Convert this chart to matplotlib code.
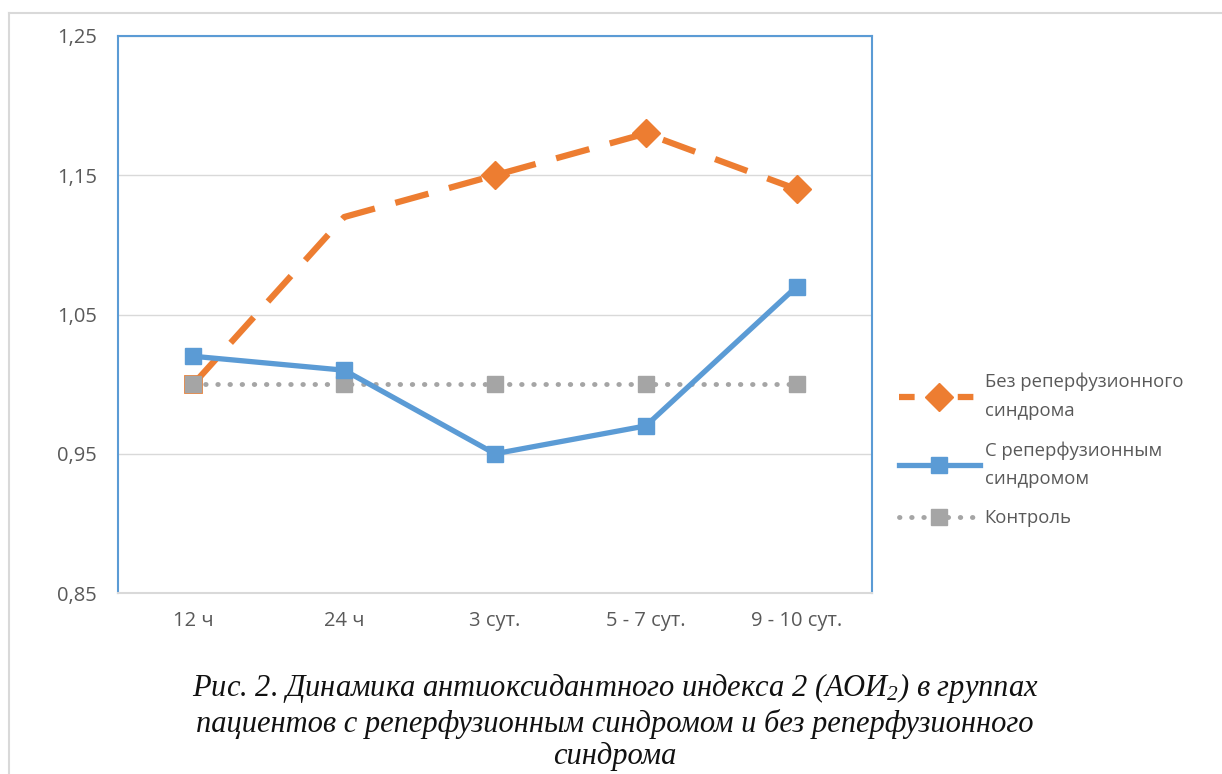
import matplotlib
matplotlib.use("Agg")
from matplotlib import pyplot as plt
from matplotlib.lines import Line2D

categories = ["12 ч", "24 ч", "3 сут.", "5 - 7 сут.", "9 - 10 сут."]
bez_reperf = [1.00, 1.12, 1.15, 1.18, 1.14]
s_reperf = [1.02, 1.01, 0.95, 0.97, 1.07]
kontrol = [1.00, 1.00, 1.00, 1.00, 1.00]
yticks = [0.85, 0.95, 1.05, 1.15, 1.25]
ytick_labels = ["0,85", "0,95", "1,05", "1,15", "1,25"]
labels = ["Без реперфузионного\nсиндрома", "С реперфузионным\nсиндромом", "Контроль"]
caption = ("Рис. 2. Динамика антиоксидантного индекса 2 (АО$\\mathit{И}_{2}$) в группах\n"
           "пациентов с реперфузионным синдромом и без реперфузионного\nсиндрома")

plt.rcParams['font.family'] = ['Open Sans', 'DejaVu Sans']
plt.rcParams['mathtext.fontset'] = 'custom'
plt.rcParams['mathtext.it'] = 'Liberation Serif:italic'
plt.rcParams['mathtext.rm'] = 'Liberation Serif:italic'

W, H = 1222, 774
fig = plt.figure(figsize=(W / 100, H / 100), dpi=100)
ax = fig.add_axes([118 / W, 1 - 593 / H, (872 - 118) / W, (593 - 36) / H])

orange = "#ED7D31"
blue = "#5B9BD5"
gray = "#A5A5A5"
x = list(range(len(categories)))

ax.plot(x, bez_reperf, color=orange, lw=4.5, dashes=(5.5, 3.4), marker="D", markersize=14,
        markevery=[2, 3, 4], zorder=3)
ax.plot(x[:1], bez_reperf[:1], ls="none", marker="s", markersize=12, markerfacecolor="none",
        markeredgecolor=orange, markeredgewidth=2, zorder=3)
ax.plot(x, kontrol, color=gray, lw=3.5, ls=(0, (0.1, 2.4)), dash_capstyle="round",
        marker="s", markersize=11, zorder=4)
ax.plot(x, s_reperf, color=blue, lw=3.8, marker="s", markersize=11, zorder=5)

ax.set_xlim(-0.5, len(categories) - 0.5)
ax.set_ylim(0.85, 1.25)
ax.set_yticks(yticks)
ax.set_yticklabels(ytick_labels)
ax.set_xticks(x)
ax.set_xticklabels(categories)
ax.tick_params(length=0, labelsize=14.5, colors="#595959")
ax.tick_params(axis="y", pad=15)
ax.tick_params(axis="x", pad=13)
ax.grid(axis="y", color="#D9D9D9", lw=1)
ax.set_axisbelow(True)
for s in ["left", "top", "right"]:
    ax.spines[s].set_color(blue)
    ax.spines[s].set_linewidth(1.5)
ax.spines["bottom"].set_color("#D9D9D9")
ax.spines["bottom"].set_linewidth(1.5)

handles = [
    Line2D([], [], color=orange, lw=4.5, dashes=(2.5, 2.2), marker="D", markersize=14),
    Line2D([], [], color=blue, lw=3.8, marker="s", markersize=11),
    Line2D([], [], color=gray, lw=3.5, ls=(0, (0.1, 2.4)), dash_capstyle="round", marker="s", markersize=11),
]
leg = fig.legend(handles, labels, loc="center left", bbox_to_anchor=(882 / W, 1 - 450 / H),
                 frameon=False, fontsize=13.3, labelcolor="#595959", handlelength=4.4,
                 handletextpad=0.25, labelspacing=1.15)
for t in leg.get_texts():
    t.set_linespacing(1.75)

fig.text(615 / W, 1 - 721 / H, caption, ha="center", va="center", fontsize=22,
         family="Liberation Serif", style="italic", linespacing=1.16, color="#111111")

fig.add_artist(Line2D([9 / W, 9 / W], [0, 1 - 13 / H], color="#D9D9D9", lw=1.5))
fig.add_artist(Line2D([9 / W, 1], [1 - 13 / H, 1 - 13 / H], color="#D9D9D9", lw=1.5))

fig.savefig("out.png", dpi=100)
